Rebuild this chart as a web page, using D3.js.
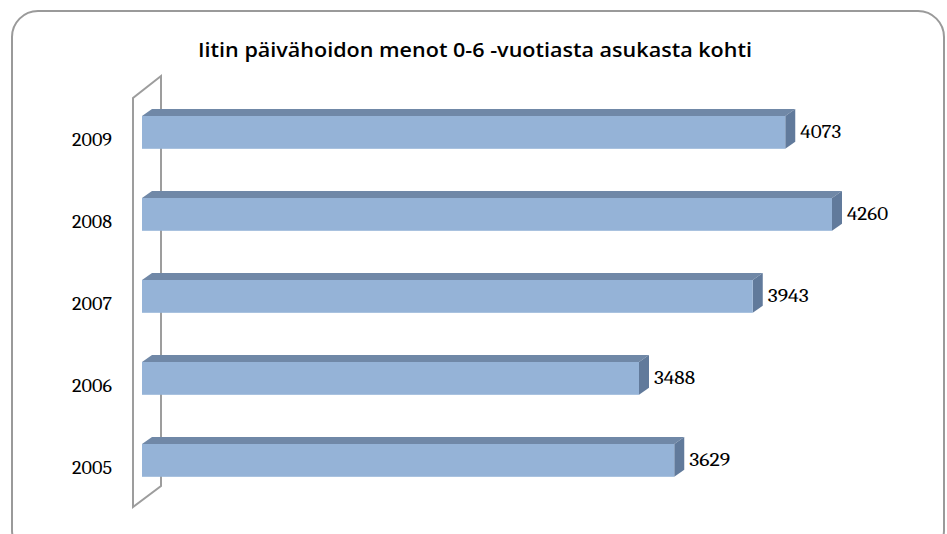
<!DOCTYPE html>
<html>
<head>
<meta charset="utf-8">
<script src="https://cdn.jsdelivr.net/npm/d3@7"></script>
<style>
  html, body { margin: 0; padding: 0; background: #ffffff; }
  svg { display: block; }
</style>
</head>
<body>
<svg id="chart" width="947" height="534"></svg>
<script>
// ---- data ----
const years = ["2009", "2008", "2007", "2006", "2005"];
const values = [4073, 4260, 3943, 3488, 3629];
const title = "Iitin päivähoidon menot 0-6 -vuotiasta asukasta kohti";
const valueDomain = [1500, 4500];

const svg = d3.select("#chart");

// outer rounded frame
svg.append("rect")
  .attr("x", 12).attr("y", 11)
  .attr("width", 932).attr("height", 545)
  .attr("rx", 26).attr("ry", 26)
  .attr("fill", "#ffffff")
  .attr("stroke", "#9a9a9a")
  .attr("stroke-width", 2);

// title
svg.append("text")
  .attr("x", 475).attr("y", 57)
  .attr("text-anchor", "middle")
  .attr("font-family", "'Open Sans', Lato, sans-serif")
  .attr("font-weight", "600")
  .attr("font-size", 20)
  .attr("textLength", 554)
  .attr("lengthAdjust", "spacingAndGlyphs")
  .attr("fill", "#000")
  .text(title);

// scales
const x = d3.scaleLinear().domain(valueDomain).range([142, 892]);
const y = d3.scaleBand().domain(years).range([91.4, 501.4])
  .paddingInner(0.6).paddingOuter(0.3);

const dx = 10, dy = -7;      // bar depth
const wallFront = 133, wallBack = 161, wdy = -22;

// wall (side plane) drawn behind bars
const wallTop = 98, wallBottom = 507;
svg.append("path")
  .attr("d", `M${wallFront},${wallBottom} L${wallFront},${wallTop} L${wallBack},${wallTop + wdy} L${wallBack},${wallBottom + wdy + 1} Z`)
  .attr("fill", "#ffffff")
  .attr("stroke", "#9d9d9d")
  .attr("stroke-width", 2);

const fontSerif = "Cambria, 'Liberation Serif', 'DejaVu Serif', serif";

// bars
const bars = svg.append("g");
years.forEach((yr, i) => {
  const v = values[i];
  const x0 = x(valueDomain[0]);
  const x1 = x(v);
  const y0 = y(yr);
  const h = y.bandwidth();
  const g = bars.append("g");
  g.append("path")
    .attr("d", `M${x0},${y0} L${x0 + dx},${y0 + dy} L${x1 + dx},${y0 + dy} L${x1},${y0} Z`)
    .attr("fill", "#7088a7");
  g.append("path")
    .attr("d", `M${x1},${y0} L${x1 + dx},${y0 + dy} L${x1 + dx},${y0 + h + dy} L${x1},${y0 + h} Z`)
    .attr("fill", "#617a9b");
  g.append("rect")
    .attr("x", x0).attr("y", y0)
    .attr("width", x1 - x0).attr("height", h)
    .attr("fill", "#95b3d7");
  g.append("text")
    .attr("x", x1 + dx + 5)
    .attr("y", y0 + h / 2 + 1.5)
    .attr("dominant-baseline", "middle")
    .attr("font-family", fontSerif)
    .attr("font-size", 18)
    .attr("textLength", 41)
    .attr("lengthAdjust", "spacingAndGlyphs")
    .attr("fill", "#000")
    .text(v);
});

// category labels
svg.append("g").selectAll("text")
  .data(years)
  .join("text")
  .attr("x", 112)
  .attr("y", d => y(d) + y.bandwidth() / 2 + 9)
  .attr("text-anchor", "end")
  .attr("dominant-baseline", "middle")
  .attr("font-family", fontSerif)
  .attr("font-size", 18)
  .attr("textLength", 40)
  .attr("lengthAdjust", "spacingAndGlyphs")
  .attr("fill", "#000")
  .text(d => d);
</script>
</body>
</html>
